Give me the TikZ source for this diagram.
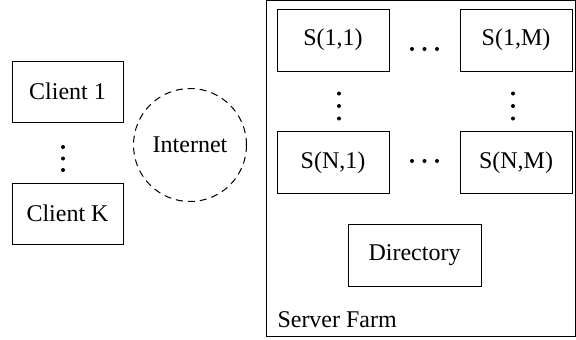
\documentclass[tikz,border=0pt]{standalone}
\usepackage{fontspec}
\setmainfont{Liberation Serif}
\usepackage{tikz}
\usetikzlibrary{positioning}

\begin{document}
\begin{tikzpicture}[x=0.5pt, y=-0.5pt, line width=0.5pt, font=\fontsize{12}{14}\selectfont]
\tikzstyle{cs_box}=[rectangle, draw, minimum width=55.5pt, minimum height=30.5pt, inner sep=0pt]
\tikzstyle{srv_box}=[rectangle, draw, minimum width=56pt, minimum height=31pt, inner sep=0pt]
\tikzstyle{net_cloud}=[circle, draw, dash pattern=on 3.5pt off 2.5pt, minimum size=56.5pt, inner sep=0pt]

\useasboundingbox (0,0) rectangle (576,339);

% clients
\node at (67.5,91.5) [cs_box] (Client1) {Client 1};
\node at (67.5,213.5) [cs_box] (ClientK) {Client K};
\foreach \y in {147,158.5,170}
	\fill (63,\y) circle (1pt);

\node at (190,145) [net_cloud] (Internet) {Internet};

% server farm
\node at (420.5,168.75) [rectangle, draw, minimum width=154.5pt, minimum height=168pt] (Farm) {};
\node at (277,327) [anchor=base west, inner sep=0pt] (FarmLabel) {Server Farm};

\node at (333,40) [srv_box] (S11) {S(1,1)};
\node at (516,40) [srv_box] (S1M) {S(1,M)};
\node at (333,162.5) [srv_box] (SN1) {S(N,1)};
\node at (516,162.5) [srv_box] (SNM) {S(N,M)};
\node at (414.5,255) [srv_box, minimum width=66.5pt] (Dir) {Directory};

\foreach \x in {412,424.5,437} {
	\fill (\x,49) circle (1pt);
	\fill (\x,161) circle (1pt);
}
\foreach \y in {93.5,106,118.5} {
	\fill (339,\y) circle (1pt);
	\fill (513,\y) circle (1pt);
}

\end{tikzpicture}
\end{document}
